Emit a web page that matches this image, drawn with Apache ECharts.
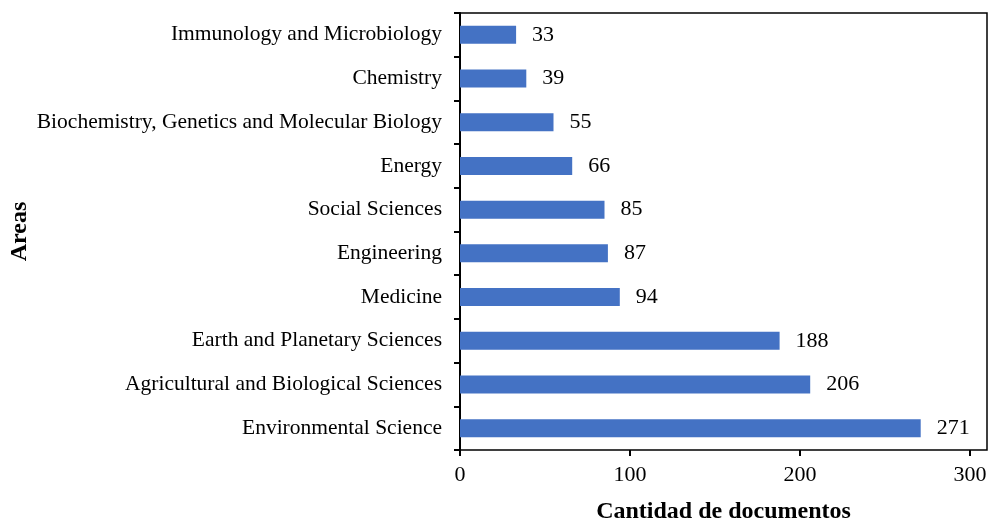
<!DOCTYPE html>
<html>
<head>
<meta charset="utf-8">
<script src="https://cdn.jsdelivr.net/npm/echarts@6/dist/echarts.min.js"></script>
<style>
  html, body { margin: 0; padding: 0; background: #fff; }
</style>
</head>
<body>
<div id="areas_chart" style="width:989px;height:522px;"></div>
<script>
  // categories listed bottom to top (category axis starts at the bottom)
  var areas = [
    'Environmental Science',
    'Agricultural and Biological Sciences',
    'Earth and Planetary Sciences',
    'Medicine',
    'Engineering',
    'Social Sciences',
    'Energy',
    'Biochemistry, Genetics and Molecular Biology',
    'Chemistry',
    'Immunology and Microbiology'
  ]
  var documentos = [271, 206, 188, 94, 87, 85, 66, 55, 39, 33]
  var xTicks = [0, 100, 200, 300]

  var font = '"Liberation Serif", "Times New Roman", serif'
  var chart = echarts.init(document.getElementById('areas_chart'))

  chart.setOption({
    backgroundColor: '#fff',
    animation: false,
    grid: {
      left: 460,
      top: 13,
      right: 2,
      bottom: 72,
      outerBoundsMode: 'none',
      containLabel: false,
      show: true,
      borderColor: '#000',
      borderWidth: 1.5,
      backgroundColor: 'transparent'
    },
    xAxis: {
      type: 'value',
      min: 0,
      max: 310,
      interval: 100,
      name: 'Cantidad de documentos',
      nameLocation: 'middle',
      nameGap: 50,
      nameMoveOverlap: false,
      nameTextStyle: { fontFamily: font, fontSize: 24, fontWeight: 'bold', color: '#000' },
      splitLine: { show: false },
      axisLine: { lineStyle: { color: '#000', width: 2 } },
      axisTick: { show: true, length: 6, customValues: xTicks, lineStyle: { color: '#000', width: 2 } },
      axisLabel: {
        customValues: xTicks,
        margin: 14,
        fontFamily: font,
        fontSize: 22,
        color: '#000'
      }
    },
    yAxis: {
      type: 'category',
      data: areas,
      name: 'Areas',
      nameLocation: 'middle',
      nameGap: 428,
      nameMoveOverlap: false,
      nameRotate: 90,
      nameTextStyle: { fontFamily: font, fontSize: 24, fontWeight: 'bold', color: '#000' },
      axisLine: { lineStyle: { color: '#000', width: 2 } },
      axisTick: { show: true, length: 6, lineStyle: { color: '#000', width: 2 } },
      axisLabel: {
        margin: 18,
        fontFamily: font,
        fontSize: 21.5,
        color: '#000'
      }
    },
    series: [{
      type: 'bar',
      data: documentos,
      barWidth: 18,
      itemStyle: { color: '#4472C4' },
      label: {
        show: true,
        position: 'right',
        distance: 16,
        fontFamily: font,
        fontSize: 22,
        color: '#000'
      }
    }]
  })
</script>
</body>
</html>
